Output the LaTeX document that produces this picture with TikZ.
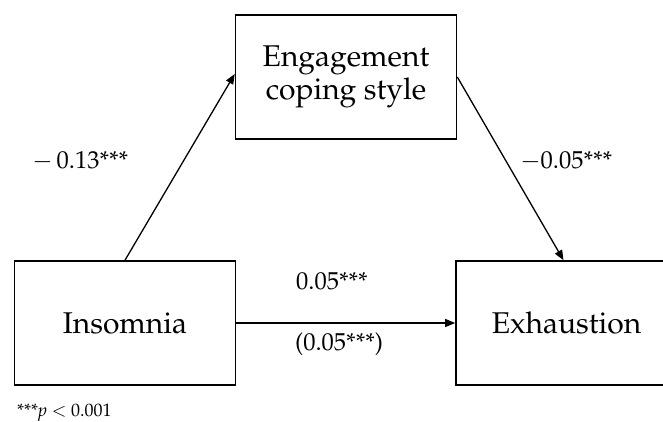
\documentclass[tikz,border=0pt]{standalone}
\usepackage[T1]{fontenc}
\usepackage{mathpazo}
\usetikzlibrary{arrows.meta}
\begin{document}
\begin{tikzpicture}[x=1pt,y=-1pt,
  varbox/.style={draw, line width=1.6pt, minimum width=221pt, minimum height=124pt,
    align=center, inner sep=0pt, font=\fontsize{30}{33}\selectfont},
  path/.style={line width=1.3pt, -{Triangle[length=10pt,width=8pt]}},
  coef/.style={inner sep=0pt, anchor=base west, font=\fontsize{24.5}{30}\selectfont},
  note/.style={inner sep=0pt, anchor=base west, font=\fontsize{18}{22}\selectfont}]
\useasboundingbox (0,0) rectangle (663,422);
\clip (0,0) rectangle (663,422);

% variables
\node[varbox] (eng) at (346,77) {Engagement\\coping style};
\node[varbox] (ins) at (125,323) {Insomnia};
\node[varbox] (exh) at (566.5,323) {Exhaustion};

% paths
\draw[path] (ins.north) -- ([yshift=3pt]eng.west);
\draw[path] (eng.east) -- ([xshift=-3pt]exh.north);
\draw[path] (ins.east) -- (exh.west);

% coefficients
\node[coef] (a) at (32,168) {$-$\,0.13***};
\node[coef] (b) at (520,168) {$-$0.05***};
\node[coef] (c) at (296,289) {0.05***};
\node[coef] (cp) at (295,350) {(0.05***)};

% significance note
\node[note] (sig) at (17,416) {***\textit{p} $<$ 0.001};
\end{tikzpicture}
\end{document}
